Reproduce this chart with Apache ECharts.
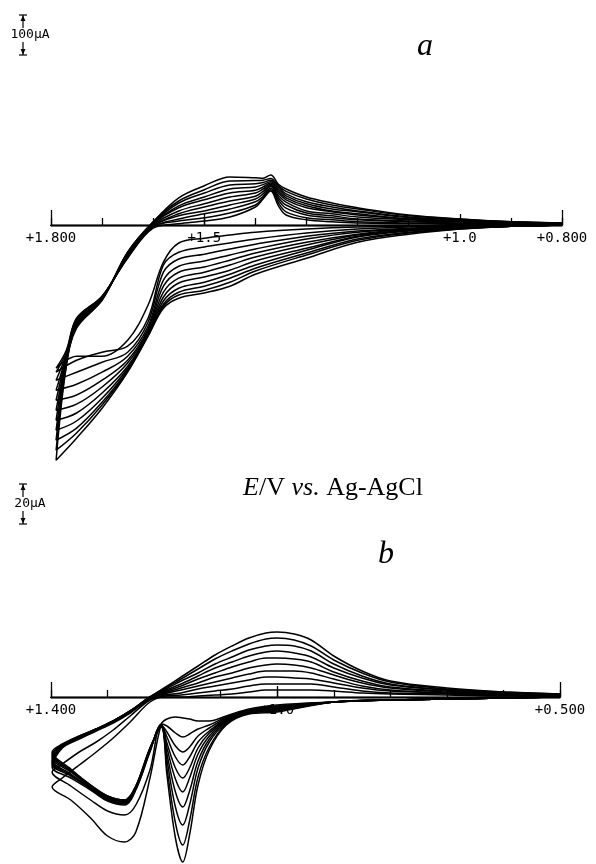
<!DOCTYPE html>
<html>
<head>
<meta charset="utf-8">
<title>Cyclic voltammograms a / b</title>
<script src="https://cdn.jsdelivr.net/npm/echarts@6/dist/echarts.min.js"></script>
<style>
html,body{margin:0;padding:0;background:#fff;}
#chart{width:596px;height:864px;}
</style>
</head>
<body>
<div id="chart"></div>
<script>
/* panel a : potentials (V) of the read points, forward (anodic) and return sweep */
var potAFwd = [0.8, 0.9, 1.0, 1.1, 1.2, 1.3, 1.4, 1.45, 1.5, 1.55, 1.58, 1.61, 1.65, 1.7, 1.75, 1.79];
var potARev = [1.77, 1.75, 1.7, 1.65, 1.6, 1.55, 1.5, 1.45, 1.4, 1.385, 1.37, 1.355, 1.34, 1.3, 1.25, 1.2, 1.1, 1.0, 0.9, 0.8];
/* panel a : current (uA) of each cycle, cathodic up */
var curAFwd = [
	[0,0,0,-3,-5,-10,-18,-25,-33,-45,-93,-200,-288,-328,-328,-358],
	[0,0,-3,-5,-10,-20,-35,-45,-55,-68,-100,-233,-303,-318,-338,-368],
	[0,-3,-3,-8,-15,-28,-48,-60,-73,-85,-118,-243,-318,-343,-368,-388],
	[0,-3,-5,-10,-18,-35,-60,-75,-90,-103,-138,-253,-328,-368,-398,-413],
	[0,-3,-5,-10,-23,-43,-70,-88,-105,-118,-153,-260,-338,-388,-425,-438],
	[0,-3,-5,-13,-25,-50,-80,-100,-118,-133,-168,-265,-345,-405,-448,-463],
	[0,-3,-8,-13,-28,-58,-90,-113,-130,-145,-180,-270,-353,-420,-470,-488],
	[0,-3,-8,-15,-30,-63,-100,-123,-143,-158,-190,-273,-358,-433,-490,-513],
	[0,-3,-8,-18,-35,-70,-108,-133,-153,-168,-198,-275,-363,-443,-508,-538],
	[0,-3,-10,-20,-38,-75,-115,-143,-163,-175,-203,-275,-365,-450,-520,-563],
	[0,-3,-10,-23,-43,-83,-123,-153,-170,-183,-208,-278,-368,-458,-533,-588]
];
var curARev = [
	[-313,-233,-178,-83,-8,3,10,20,45,65,85,48,25,13,8,5,3,3,0,0],
	[-318,-235,-178,-80,-5,10,18,30,50,68,88,55,33,18,13,8,5,3,0,0],
	[-323,-238,-180,-80,-5,15,28,40,58,72,92,62,42,25,18,13,8,5,3,0],
	[-328,-240,-180,-78,-3,23,35,50,65,78,96,68,50,30,23,15,10,8,3,3],
	[-330,-243,-183,-78,-3,28,45,60,72,84,99,74,57,35,28,20,13,8,3,3],
	[-335,-245,-183,-75,0,35,53,70,80,90,102,80,63,43,33,25,15,10,5,3],
	[-338,-248,-183,-73,3,43,63,80,87,95,105,85,68,48,35,28,15,10,5,3],
	[-343,-250,-185,-73,3,48,70,90,95,101,108,90,73,53,40,33,18,13,5,3],
	[-345,-253,-185,-70,5,55,80,100,103,106,112,95,78,58,45,35,20,13,8,5],
	[-350,-255,-188,-68,8,60,88,110,111,112,116,98,84,65,50,40,23,15,8,5],
	[-353,-258,-188,-68,8,68,98,120,118,117,125,102,90,70,55,43,25,15,8,5]
];

/* panel b */
var potBFwd = [0.5, 0.6, 0.7, 0.8, 0.9, 1.0, 1.05, 1.09, 1.12, 1.14, 1.155, 1.167, 1.18, 1.195, 1.205, 1.225, 1.25, 1.27, 1.3, 1.33, 1.365, 1.398];
var potBRev = [1.38, 1.35, 1.32, 1.29, 1.26, 1.225, 1.2, 1.17, 1.14, 1.11, 1.08, 1.05, 1.02, 1.0, 0.97, 0.94, 0.9, 0.85, 0.8, 0.7, 0.6, 0.5];
var curBFwd = [
	[0,-0.5,-1,-1.5,-2.5,-4,-6,-9.5,-12,-12,-11,-10.5,-10,-11,-13.5,-40.5,-67.5,-72.5,-69.5,-60.5,-51.5,-45],
	[0,-0.5,-1,-1.5,-2.5,-4.5,-6.5,-10,-14,-16,-18.5,-20,-18,-14.5,-13.5,-36.5,-54,-59,-57,-51.5,-44.5,-37.5],
	[0,-0.5,-1,-1.5,-2.5,-5,-6.5,-10.5,-15.5,-19.5,-25,-27.5,-24.5,-17.5,-14,-27.5,-46.5,-54,-52,-46.5,-40.5,-35],
	[0,-0.5,-1,-1.5,-2.5,-5,-7,-11,-17,-22.5,-30,-34,-30,-20,-14,-27,-46,-53.5,-51.5,-46,-39.5,-33.5],
	[0,-0.5,-1,-1.5,-2.5,-5.5,-7,-11.5,-18,-25.5,-35.5,-40.5,-35.5,-23,-14,-26.5,-45.5,-53,-51,-45.5,-39,-32.5],
	[0,-0.5,-1,-1.5,-2.5,-6,-7.5,-12,-19.5,-28.5,-40.5,-47.5,-41,-25.5,-14.5,-26.5,-45.5,-52.5,-50.5,-45.5,-38.5,-31.5],
	[0,-0.5,-1,-1.5,-2.5,-6,-7.5,-12.5,-21,-32,-47,-55,-47.5,-28.5,-14.5,-26,-45,-52.5,-50.5,-45,-37.5,-30.5],
	[0,-0.5,-1,-1.5,-2.5,-6.5,-8,-13,-22.5,-35.5,-54,-64,-55,-31.5,-14.5,-26,-45,-52,-50,-44.5,-37,-29.5],
	[0,-0.5,-1,-1.5,-2.5,-7,-8,-13.5,-25,-40,-62,-74,-63,-35.5,-15,-25.5,-44.5,-51.5,-49.5,-44,-36.5,-28.5],
	[0,-0.5,-1,-1.5,-2.5,-7.5,-8.5,-14,-26.5,-44,-69,-82.5,-70.5,-39,-15,-25.5,-44.5,-51.5,-49.5,-44,-36,-27.5]
];
var curBRev = [
	[-40.5,-34,-27.5,-20.5,-12.5,-2.5,0,0,0.5,1,1.5,2.5,3.5,3.5,3.5,3.5,3,2,1.5,1,0.5,0.5],
	[-33.5,-27.5,-22.5,-16.5,-9.5,-1.5,0.5,1,2,3,4,5.5,6.5,6.5,6.5,6.5,5,3,2,1.5,0.5,0.5],
	[-25.5,-21,-17,-13,-8,-1,1,2,4,5.5,7,8.5,10,10,9.5,9,7,4.5,3,2,1,0.5],
	[-25,-20.5,-16.5,-12.5,-7.5,-0.5,1.5,3.5,5.5,7.5,9.5,11.5,13,13,13,12,9,5.5,3.5,2,1,1],
	[-25,-20.5,-16.5,-12.5,-7.5,-0.5,2,4.5,7,10,12,14.5,16,16.5,16,14.5,11,7,4.5,2.5,1.5,1],
	[-24.5,-20,-16.5,-12.5,-7.5,-0.5,2.5,5.5,9,12,15,17.5,19.5,19.5,19,17.5,12.5,8,5,3,1.5,1],
	[-24.5,-20,-16,-12,-7,0,3,6.5,10.5,14.5,17.5,20.5,22.5,23,22,20,14.5,9.5,6,3.5,2,1],
	[-24,-20,-16,-12,-7,0,3.5,8,12,16.5,20,23.5,25.5,26,25.5,23,16.5,10.5,6.5,3.5,2,1.5],
	[-24,-19.5,-16,-12,-7,0,4,9,14,19,23,26.5,29,29.5,28.5,25.5,18.5,12,7.5,4,2.5,1.5],
	[-23.5,-19.5,-16,-12,-7,0,4.5,10,15.5,21,25.5,29.5,32,32.5,31.5,28.5,20.5,13,8,4.5,2.5,1.5]
];

/* axis ticks and labels */
var ticksA = [0.8, 0.9, 1.0, 1.1, 1.2, 1.3, 1.4, 1.5, 1.6, 1.7, 1.8];
var majorA = [1.5, 1.0];
var endsA = [1.8, 0.8];
var labelValsA = [1.8, 1.5, 1.0, 0.8];
var labelTextA = ['+1.800', '+1.5', '+1.0', '+0.800'];
var ticksB = [0.5, 0.6, 0.7, 0.8, 0.9, 1.0, 1.1, 1.2, 1.3, 1.4];
var majorB = [1.0];
var endsB = [1.4, 0.5];
var labelValsB = [1.4, 1.0, 0.5];
var labelTextB = ['+1.400', '+1.0', '+0.500'];

var ink = '#000';
var plotFont = 'DejaVu Sans Mono';
/* current ranges of the two frames and their pixel boxes */
var yA = {min: -600, max: 150, top: 165, height: 300};
var yB = {min: -84, max: 40, top: 617, height: 248};

var chart = echarts.init(document.getElementById('chart'));

// one cycle = forward sweep followed by return sweep
function buildLoop(fp, fc, rp, rc){
	var pts = [];
	for(var i=0;i<fp.length;i++){ pts.push([fp[i], fc[i]]); }
	for(var j=0;j<rp.length;j++){ pts.push([rp[j], rc[j]]); }
	return pts;
}
function labelFor(vals, texts){
	return function(v){
		for(var i=0;i<vals.length;i++){
			if(Math.abs(vals[i]-v) < 1e-6) return texts[i];
		}
		return '';
	};
}
// shift the potential axis from the frame bottom up to zero current
function zeroOffset(y){
	return -y.height * (0 - y.min) / (y.max - y.min);
}
function potAxis(grid, y, min, max, tickVals, len, labVals, labTexts){
	return {
		gridIndex: grid, type: 'value', min: min, max: max, inverse: true, position: 'bottom',
		offset: zeroOffset(y),
		axisLine: {show: true, onZero: false, lineStyle: {color: ink, width: 1.3}},
		axisTick: {show: true, inside: true, length: len, customValues: tickVals, lineStyle: {color: ink, width: 1.3}},
		axisLabel: labVals ? {show: true, customValues: labVals, formatter: labelFor(labVals, labTexts),
			margin: 6, color: ink, fontFamily: plotFont, fontSize: 14} : {show: false},
		splitLine: {show: false}
	};
}

var series = [];
for(var k=0;k<curAFwd.length;k++){
	series.push({
		type: 'line', xAxisIndex: 0, yAxisIndex: 0, symbol: 'none', smooth: 0.35, silent: true,
		lineStyle: {color: ink, width: 1.5},
		data: buildLoop(potAFwd, curAFwd[k], potARev, curARev[k])
	});
}
for(var m=0;m<curBFwd.length;m++){
	series.push({
		type: 'line', xAxisIndex: 3, yAxisIndex: 1, symbol: 'none', smooth: 0.35, silent: true,
		lineStyle: {color: ink, width: 1.5},
		data: buildLoop(potBFwd, curBFwd[m], potBRev, curBRev[m])
	});
}

var option = {
	animation: false,
	backgroundColor: '#fff',
	grid: [
		{left: 51, right: 34, top: yA.top, height: yA.height, outerBoundsMode: 'none'},
		{left: 51, right: 36, top: yB.top, height: yB.height, outerBoundsMode: 'none'}
	],
	xAxis: [
		potAxis(0, yA, 0.8, 1.8, ticksA, 7, labelValsA, labelTextA),
		potAxis(0, yA, 0.8, 1.8, majorA, 11),
		potAxis(0, yA, 0.8, 1.8, endsA, 15),
		potAxis(1, yB, 0.5, 1.4, ticksB, 7, labelValsB, labelTextB),
		potAxis(1, yB, 0.5, 1.4, majorB, 11),
		potAxis(1, yB, 0.5, 1.4, endsB, 15)
	],
	yAxis: [
		{gridIndex: 0, type: 'value', min: yA.min, max: yA.max, show: false},
		{gridIndex: 1, type: 'value', min: yB.min, max: yB.max, show: false}
	],
	series: series
};
chart.setOption(option);

/* current scale bars, length taken from the y scale of each panel */
function scaleBar(gridIdx, xVal, amount, left, top, label){
	var y0 = chart.convertToPixel({gridIndex: gridIdx}, [xVal, 0])[1];
	var y1 = chart.convertToPixel({gridIndex: gridIdx}, [xVal, amount])[1];
	var len = Math.abs(y0 - y1);
	var mid = len / 2;
	var st = {stroke: ink, lineWidth: 1.2};
	return {
		type: 'group', x: left, y: top, silent: true,
		children: [
			{type: 'line', shape: {x1: -4, y1: 0, x2: 4, y2: 0}, style: st},
			{type: 'polygon', shape: {points: [[0, 0.5], [-2.5, 6], [2.5, 6]]}, style: {fill: ink}},
			{type: 'line', shape: {x1: 0, y1: 0, x2: 0, y2: mid - 7}, style: st},
			{type: 'text', x: 7, y: mid, style: {text: label, fill: ink, font: '13px "DejaVu Sans Mono"', align: 'center', verticalAlign: 'middle'}},
			{type: 'line', shape: {x1: 0, y1: mid + 7, x2: 0, y2: len}, style: st},
			{type: 'polygon', shape: {points: [[0, len - 0.5], [-2.5, len - 6], [2.5, len - 6]]}, style: {fill: ink}},
			{type: 'line', shape: {x1: -4, y1: len, x2: 4, y2: len}, style: st}
		]
	};
}

chart.setOption({
	graphic: [
		scaleBar(0, 1.0, 100, 23, 15, '100\u00b5A'),
		scaleBar(1, 1.0, 20, 23, 484, '20\u00b5A'),
		{type: 'text', x: 425, y: 47, silent: true,
			style: {text: 'a', font: 'italic 32px "Liberation Serif"', fill: ink, align: 'center', verticalAlign: 'middle'}},
		{type: 'text', x: 386, y: 555, silent: true,
			style: {text: 'b', font: 'italic 32px "Liberation Serif"', fill: ink, align: 'center', verticalAlign: 'middle'}},
		{type: 'text', x: 333, y: 488, silent: true,
			style: {
				text: '{i|E}{n|/V }{i|vs.}{n| Ag-AgCl}',
				fill: ink, align: 'center', verticalAlign: 'middle',
				rich: {
					i: {fontStyle: 'italic', fontFamily: 'Liberation Serif', fontSize: 26, fill: ink},
					n: {fontFamily: 'Liberation Serif', fontSize: 26, fill: ink}
				}
			}}
	]
});
</script>
</body>
</html>
